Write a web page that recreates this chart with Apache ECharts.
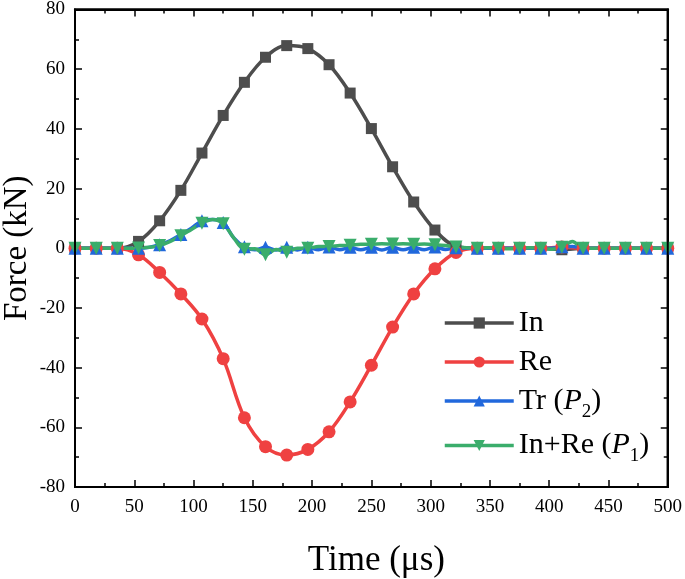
<!DOCTYPE html>
<html>
<head>
<meta charset="utf-8">
<script src="https://cdn.jsdelivr.net/npm/echarts@6/dist/echarts.min.js"></script>
<style>
html,body{margin:0;padding:0;background:#fff;}
#c{width:685px;height:579px;}
</style>
</head>
<body>
<div id="c"></div>
<script>
// Marker times (µs)
var timeMarks = [0, 17.9, 35.7, 53.6, 71.4, 89.3, 107.1, 125, 142.9, 160.7, 178.6, 196.4, 214.3, 232.1, 250,
  267.9, 285.7, 303.6, 321.4, 339.3, 357.1, 375, 392.9, 410.7, 428.6, 446.4, 464.3, 482.1, 500];
// Half-step times (µs) for the wiggly curves
var timeFine = [0, 8.9, 17.9, 26.8, 35.7, 44.6, 53.6, 62.5, 71.4, 80.4, 89.3, 98.2, 107.1, 116.1, 125, 133.9,
  142.9, 151.8, 160.7, 169.6, 178.6, 187.5, 196.4, 205.4, 214.3, 223.2, 232.1, 241.1, 250, 258.9, 267.9, 276.8,
  285.7, 294.6, 303.6, 312.5, 321.4, 330.4, 339.3, 348.2, 357.1, 366.1, 375, 383.9, 392.9, 401.8, 410.7, 419.6,
  428.6, 437.5, 446.4, 455.4, 464.3, 473.2, 482.1, 491.1, 500];

var inForce = [0, 0, 0, 2.3, 9.2, 19.4, 31.9, 44.5, 55.6, 64, 67.9, 66.9, 61.5, 52, 40.1,
  27.3, 15.5, 6.1, 0.6, 0, 0, 0, 0, -0.5, 0, 0, 0, 0, 0];
var reForce = [0, 0, 0, -2.2, -8.1, -15.3, -23.7, -37, -56.8, -66.5, -69.3, -67.4, -61.5, -51.5, -39.2,
  -26.4, -15.3, -6.9, -1.4, 0, 0, 0, 0, 0.4, 0, 0, 0, 0, 0];
var trForce = [0, 0, 0, 0, 0, 0, 0, 0.3, 1.2, 2.6, 4.6, 6.7, 9.2, 9.6, 8.6, 3.5,
  0.5, -0.5, 0.3, -0.6, 0.3, -0.6, 0.3, -0.5, 0.4, -0.5, 0.3, -0.5, 0.3, -0.6, 0.3, -0.5,
  0.3, -0.5, 0.4, -0.4, 0.2, 0, 0, 0, 0, 0, 0, 0, 0, 0, 0.5, 0.6,
  0, 0, 0, 0, 0, 0, 0, 0, 0];
var p1Force = [0, 0, 0, 0, 0, 0, 0.1, 0.3, 0.9, 2.3, 4.2, 6.3, 8.4, 9.6, 8.2, 3.5,
  -0.3, -0.2, -2.2, -0.4, -1.3, 0, 0, 0.6, 0.6, 0.9, 1.0, 1.3, 1.3, 1.5, 1.4, 1.5,
  1.3, 1.4, 1.2, 0.9, 0.4, 0.2, 0, 0.2, 0, -0.2, 0, 0.2, 0, -0.3, 0.3, 2.3,
  0, 0, 0, 0, 0, 0, 0, 0, 0];

var xTicks = [0, 500, 50];
var yTicks = [-80, 80, 20];

function pairs(ts, vs, everyOther) {
  return ts.map(function (t, i) {
    var item = { value: [t, vs[i]] };
    if (everyOther && i % 2 === 1) item.symbol = 'none';
    return item;
  });
}

var FONT = '"Liberation Serif","Times New Roman",serif';
var chart = echarts.init(document.getElementById('c'));

function axisBase() {
  return {
    show: true,
    axisLine: { show: true, onZero: false, lineStyle: { color: '#000', width: 2 } },
    axisTick: { show: true, inside: true, length: 7, lineStyle: { color: '#000', width: 1.5 } },
    minorTick: { show: true, splitNumber: 2, length: 4, lineStyle: { color: '#000', width: 1.5 } },
    splitLine: { show: false }
  };
}
function mk(extra) { return Object.assign(axisBase(), extra); }

var lineW = 3.5;
chart.setOption({
  animation: false,
  backgroundColor: '#fff',
  grid: { left: 75, right: 15, top: 8, bottom: 92, outerBoundsContain: 'axisLabel',
    show: true, borderColor: '#000', borderWidth: 2 },
  xAxis: [
    mk({
      type: 'value', min: xTicks[0], max: xTicks[1], interval: xTicks[2], position: 'bottom',
      name: 'Time (\u03bcs)', nameLocation: 'middle', nameGap: 56,
      nameTextStyle: { fontFamily: FONT, fontSize: 35, lineHeight: 35, color: '#000', padding: [0, 0, 0, 10] },
      axisLabel: { fontFamily: FONT, fontSize: 19, color: '#000', margin: 11 }
    }),
    mk({
      type: 'value', min: xTicks[0], max: xTicks[1], interval: xTicks[2], position: 'top',
      axisLabel: { show: false }
    })
  ],
  yAxis: [
    mk({
      type: 'value', min: yTicks[0], max: yTicks[1], interval: yTicks[2], position: 'left',
      name: 'Force (kN)', nameLocation: 'middle', nameGap: 41, nameMoveOverlap: false,
      nameTextStyle: { fontFamily: FONT, fontSize: 33, lineHeight: 33, color: '#000' },
      axisLabel: { fontFamily: FONT, fontSize: 19, color: '#000', margin: 10 }
    }),
    mk({
      type: 'value', min: yTicks[0], max: yTicks[1], interval: yTicks[2], position: 'right',
      axisLabel: { show: false }
    })
  ],
  legend: {
    orient: 'vertical', left: 443, top: 308, padding: 0, itemWidth: 69, itemHeight: 14, itemGap: 9,
    lineStyle: { width: 3.5 },
    textStyle: {
      fontFamily: FONT, fontSize: 30, color: '#000',
      rich: {
        n: { fontFamily: FONT, fontSize: 30, color: '#000' },
        i: { fontFamily: FONT, fontSize: 30, color: '#000', fontStyle: 'italic' },
        s: { fontFamily: FONT, fontSize: 19, color: '#000', verticalAlign: 'bottom', padding: [22, 0, 0, 0] }
      }
    },
    formatter: function (name) {
      if (name === 'Tr (P2)') return '{n|Tr (}{i|P}{s|2}{n|)}';
      if (name === 'In+Re (P1)') return '{n|In+Re (}{i|P}{s|1}{n|)}';
      return '{n|' + name + '}';
    },
    data: ['In', 'Re', 'Tr (P2)', 'In+Re (P1)']
  },
  series: [
    {
      name: 'In', type: 'line', smooth: 0.35, symbol: 'rect', symbolSize: 11,
      data: pairs(timeMarks, inForce, false),
      lineStyle: { width: lineW, color: '#4d4d4d' }, itemStyle: { color: '#4d4d4d' }
    },
    {
      name: 'Re', type: 'line', smooth: 0.35, symbol: 'circle', symbolSize: 13,
      data: pairs(timeMarks, reForce, false),
      lineStyle: { width: lineW, color: '#ef4141' }, itemStyle: { color: '#ef4141' }
    },
    {
      name: 'Tr (P2)', type: 'line', smooth: 0.35, symbol: 'triangle', symbolSize: 13,
      data: pairs(timeFine, trForce, true),
      lineStyle: { width: lineW, color: '#2168dc' }, itemStyle: { color: '#2168dc' }
    },
    {
      name: 'In+Re (P1)', type: 'line', smooth: 0.35, symbol: 'triangle', symbolRotate: 180, symbolSize: 13,
      data: pairs(timeFine, p1Force, true),
      lineStyle: { width: lineW, color: '#3aad6b' }, itemStyle: { color: '#3aad6b' }
    }
  ]
});

// Plot frame derived from the axes' own scales
var p0 = chart.convertToPixel({ gridIndex: 0 }, [xTicks[0], yTicks[1]]);
var p1 = chart.convertToPixel({ gridIndex: 0 }, [xTicks[1], yTicks[0]]);
chart.setOption({
  graphic: [{
    type: 'rect', z: 100, silent: true,
    shape: { x: p0[0], y: p0[1], width: p1[0] - p0[0], height: p1[1] - p0[1] },
    style: { fill: null, stroke: '#000', lineWidth: 2 }
  }]
});
</script>
</body>
</html>
